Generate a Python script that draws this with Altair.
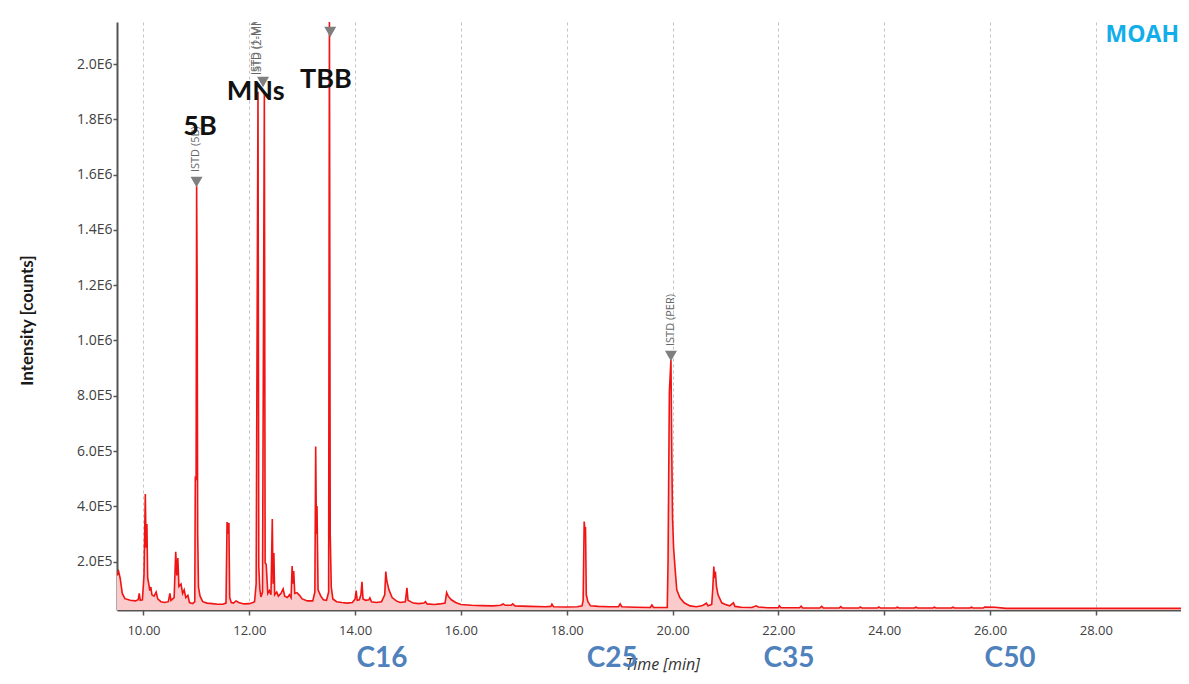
import altair as alt
import pandas as pd

# ---- chromatogram trace (time in min, intensity in thousands of counts) ----
trace_time = [
    9.50, 9.53, 9.56, 9.60, 9.65, 9.75, 9.85, 9.90, 9.92, 9.94, 9.98,
    10.01, 10.035, 10.05, 10.065, 10.08, 10.10, 10.12, 10.14, 10.16, 10.20,
    10.24, 10.27, 10.33, 10.40, 10.47, 10.50, 10.52, 10.58, 10.61, 10.63,
    10.65, 10.67, 10.71, 10.74, 10.77, 10.80, 10.84, 10.87, 10.93, 10.97,
    10.98, 10.995, 11.005, 11.015, 11.025, 11.04, 11.07, 11.12, 11.20, 11.30,
    11.40, 11.50, 11.56, 11.58, 11.60, 11.615, 11.63, 11.66, 11.70, 11.75,
    11.80, 11.90, 12.00, 12.07, 12.10, 12.13, 12.165, 12.18, 12.20, 12.22,
    12.25, 12.285, 12.30, 12.32, 12.35, 12.38, 12.41, 12.435, 12.45, 12.465,
    12.48, 12.52, 12.55, 12.60, 12.64, 12.67, 12.72, 12.76, 12.79, 12.81,
    12.825, 12.84, 12.86, 12.90, 12.95, 13.00, 13.10, 13.20, 13.24, 13.255,
    13.27, 13.28, 13.30, 13.35, 13.40, 13.46, 13.50, 13.515, 13.53, 13.55,
    13.58, 13.65, 13.75, 13.85, 13.95, 14.00, 14.02, 14.04, 14.08, 14.11,
    14.13, 14.15, 14.20, 14.26, 14.28, 14.31, 14.40, 14.50, 14.56, 14.58,
    14.60, 14.64, 14.70, 14.78, 14.85, 14.95, 14.98, 15.00, 15.10, 15.20,
    15.30, 15.33, 15.36, 15.50, 15.60, 15.70, 15.73, 15.76, 15.82, 15.90,
    16.00, 16.20, 16.40, 16.60, 16.75, 16.80, 16.84, 16.95, 16.98, 17.02,
    17.30, 17.60, 17.70, 17.72, 17.75, 18.00, 18.20, 18.29, 18.31, 18.33,
    18.345, 18.355, 18.37, 18.40, 18.45, 18.60, 18.80, 18.98, 19.01, 19.04,
    19.30, 19.58, 19.61, 19.64, 19.90, 19.915, 19.94, 19.97, 19.985, 20.00,
    20.02, 20.05, 20.08, 20.14, 20.22, 20.33, 20.45, 20.55, 20.60, 20.64,
    20.67, 20.74, 20.76, 20.78, 20.795, 20.81, 20.83, 20.86, 20.93, 21.00,
    21.08, 21.15, 21.18, 21.30, 21.50, 21.58, 21.62, 21.80, 22.00, 22.02,
    22.05, 22.40, 22.43, 22.46, 22.78, 22.82, 22.85, 23.15, 23.18, 23.21,
    23.52, 23.55, 23.58, 23.87, 23.90, 23.93, 24.22, 24.25, 24.28, 24.57,
    24.60, 24.63, 24.92, 24.95, 24.98, 25.27, 25.30, 25.33, 25.62, 25.65,
    25.68, 25.87, 25.90, 26.10, 26.30, 27.50, 29.61,
]
trace_kcounts = [
    150, 165, 140, 85, 66, 60, 58, 62, 85, 60, 62,
    150, 445, 250, 336, 140, 120, 95, 108, 80, 75,
    90, 65, 55, 52, 55, 85, 60, 70, 236, 150,
    213, 110, 119, 85, 98, 70, 78, 52, 48, 55,
    503, 500, 1560, 1200, 300, 108, 75, 55, 50, 48,
    46, 46, 50, 343, 300, 340, 70, 52, 50, 58,
    52, 47, 48, 52, 55, 120, 1900, 181, 100, 72,
    90, 1900, 195, 190, 85, 95, 80, 354, 120, 231,
    80, 90, 75, 85, 101, 75, 70, 80, 70, 184,
    120, 166, 85, 88, 78, 65, 58, 58, 90, 616,
    300, 401, 98, 76, 62, 60, 90, 2200, 300, 108,
    65, 55, 52, 50, 52, 65, 95, 60, 62, 80,
    127, 65, 60, 62, 69, 55, 52, 55, 80, 164,
    130, 98, 70, 58, 52, 55, 105, 60, 50, 48,
    50, 55, 47, 45, 47, 50, 88, 75, 62, 52,
    45, 42, 41, 40, 42, 47, 42, 42, 47, 40,
    38, 37, 38, 46, 37, 36, 37, 40, 60, 345,
    310, 325, 80, 55, 40, 38, 37, 37, 47, 37,
    35, 34, 43, 34, 34, 200, 814, 930, 600, 358,
    250, 170, 98, 69, 51, 40, 37, 40, 45, 50,
    40, 45, 100, 182, 140, 164, 110, 80, 51, 45,
    40, 51, 38, 35, 34, 40, 36, 33, 33, 40,
    33, 33, 39, 32, 32, 38, 32, 32, 37, 32,
    32, 36, 32, 32, 36, 32, 32, 35, 32, 32,
    35, 32, 32, 35, 32, 32, 35, 32, 32, 35,
    32, 32, 36, 35, 31, 31, 31,
]

# ---- axes ----
x_ticks = [10, 12, 14, 16, 18, 20, 22, 24, 26, 28]
y_ticks = [200000, 400000, 600000, 800000, 1000000, 1200000,
           1400000, 1600000, 1800000, 2000000]
x_domain = [9.5, 29.61]
y_domain = [25000, 2152000]

# ---- ISTD markers ----
istd_time = [11.003, 12.26, 13.53, 19.97]
istd_kcounts = [1573, 1935, 2116, 944]

istd_label = ["ISTD (5B)", "ISTD (1-MN)", "ISTD (2-MN)", "ISTD (PER)"]
istd_label_time = [11.0, 12.12, 12.17, 19.97]
istd_label_kcounts = [1609, 1960, 1960, 980]

# ---- compound labels ----
compound_label = ["5B", "MNs", "TBB"]
compound_time = [11.07, 12.12, 13.45]
compound_kcounts = [1772, 1899, 1944]

# ---- carbon number markers below the axis ----
carbon_label = ["C16", "C25", "C35", "C50"]
carbon_time = [14.51, 18.86, 22.20, 26.38]

W, H = 1064, 588

trace_df = pd.DataFrame({"t": trace_time, "I": [k * 1000 for k in trace_kcounts]})
istd_df = pd.DataFrame({"t": istd_time, "I": [k * 1000 for k in istd_kcounts]})
istd_lbl_df = pd.DataFrame({"t": istd_label_time,
                            "I": [k * 1000 for k in istd_label_kcounts],
                            "label": istd_label})
comp_df = pd.DataFrame({"t": compound_time,
                        "I": [k * 1000 for k in compound_kcounts],
                        "label": compound_label})
carbon_df = pd.DataFrame({"t": carbon_time, "label": carbon_label})
moah_df = pd.DataFrame({"label": ["MOAH"]})

xscale = alt.Scale(domain=x_domain, nice=False, zero=False)
yscale = alt.Scale(domain=y_domain, nice=False, zero=False)

xaxis = alt.Axis(
    values=x_ticks, format=".2f", title="Time [min]",
    labelFont="Open Sans", labelFontSize=13, labelColor="#404040",
    labelPadding=9, tickSize=5, tickColor="#555555", tickWidth=1.5,
    domainColor="#555555", domainWidth=2,
    grid=True, gridDash=[3, 3], gridColor="#c4c4c4", gridWidth=1,
    titleFont="Open Sans", titleFontStyle="italic", titleFontWeight="normal",
    titleFontSize=16, titleColor="#333333",
    titleX=545, titleY=54, titleAlign="center", titleBaseline="middle",
)
yaxis = alt.Axis(
    values=y_ticks, labelExpr="replace(format(datum.value, '.1e'), 'e+', 'E')",
    labelFont="Open Sans", labelFontSize=14, labelColor="#404040",
    labelPadding=1, tickSize=4, tickColor="#555555", tickWidth=1.5,
    domainColor="#555555", domainWidth=2, grid=False,
    title="Intensity [counts]", titleFont="Lato", titleFontWeight="bold",
    titleFontSize=17, titleColor="#1a1a1a", titleAngle=270,
    titleX=-90, titleY=298, titleAlign="center", titleBaseline="middle",
)


def X():
    return alt.X("t:Q", scale=xscale, axis=xaxis)


def Y():
    return alt.Y("I:Q", scale=yscale, axis=yaxis)


area = alt.Chart(trace_df).mark_area(color="#fbcaca", opacity=1, clip=True).encode(
    x=X(), y=Y(),
)
line = alt.Chart(trace_df).mark_line(color="#f01414", strokeWidth=1.6, clip=True).encode(
    x=X(), y=Y(),
)
istd_text = alt.Chart(istd_lbl_df).mark_text(
    angle=270, align="left", baseline="middle", font="Open Sans",
    fontSize=11, color="#666666", clip=True,
).encode(x=X(), y=Y(), text="label:N")
tri = alt.Chart(istd_df).mark_point(
    shape="triangle-down", filled=True, size=144, color="#7f7f7f", opacity=1,
).encode(x=X(), y=Y())
comp = alt.Chart(comp_df).mark_text(
    font="Lato", fontWeight="bold", fontSize=27, color="#111111",
    align="center", baseline="middle",
).encode(x=X(), y=Y(), text="label:N")
carbon = alt.Chart(carbon_df).mark_text(
    font="Lato", fontWeight="bold", fontSize=28, color="#4f81bd",
    align="center", baseline="middle",
).encode(x=X(), y=alt.value(H + 49), text="label:N")
moah = alt.Chart(moah_df).mark_text(
    font="Open Sans", fontWeight="bold", fontSize=23, color="#12aeea",
    align="right", baseline="middle",
).encode(x=alt.value(W - 2), y=alt.value(13), text="label:N")

chart = alt.layer(area, line, istd_text, tri, comp, carbon, moah).properties(
    width=W, height=H,
    autosize=alt.AutoSizeParams(type="none"),
    padding={"left": 109, "top": 14, "right": 0, "bottom": 66},
    background="white",
).configure_view(stroke=None)

chart.save("out.html", embed_options={"renderer": "svg", "actions": False})
